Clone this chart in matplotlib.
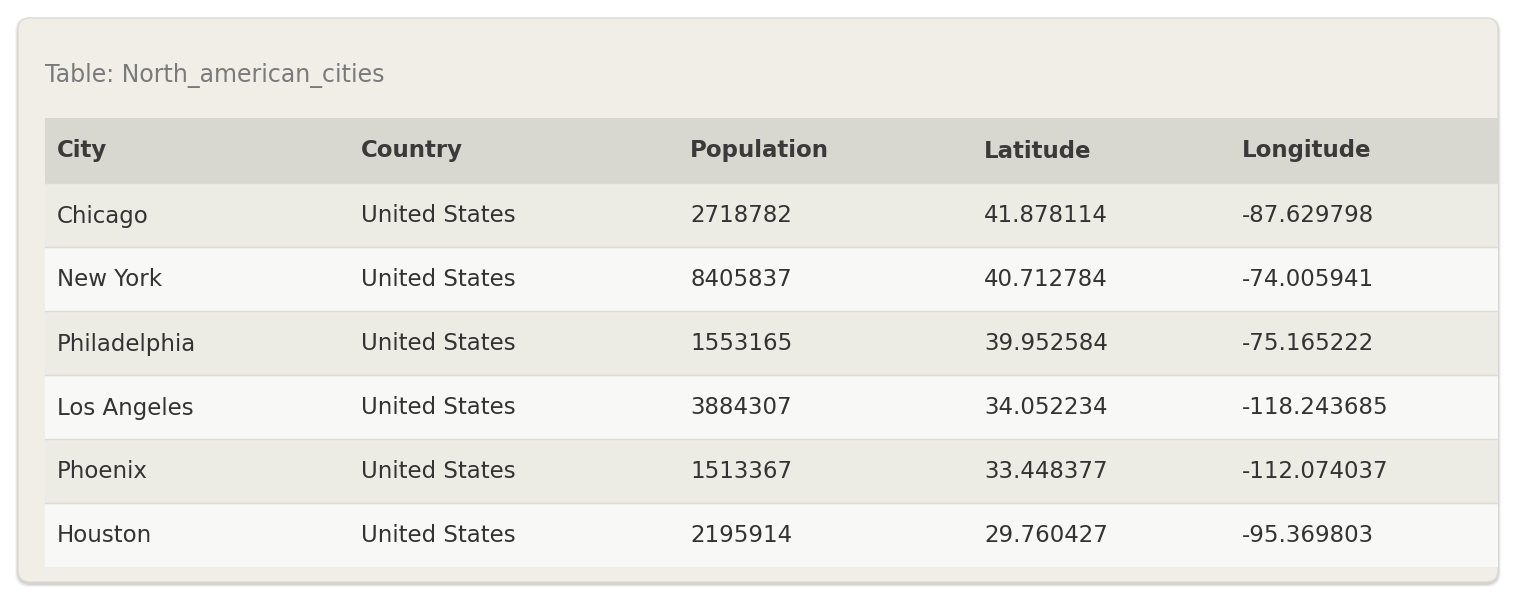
import matplotlib.pyplot as plt
from matplotlib.patches import FancyBboxPatch, Rectangle

title = "Table: North_american_cities"
columns = ["City", "Country", "Population", "Latitude", "Longitude"]
cities = ["Chicago", "New York", "Philadelphia", "Los Angeles", "Phoenix", "Houston"]
countries = ["United States"] * 6
populations = ["2718782", "8405837", "1553165", "3884307", "1513367", "2195914"]
latitudes = ["41.878114", "40.712784", "39.952584", "34.052234", "33.448377", "29.760427"]
longitudes = ["-87.629798", "-74.005941", "-75.165222", "-118.243685", "-112.074037", "-95.369803"]

col_x = [57, 361, 690, 984, 1242]
plt.rcParams['font.family'] = ['DejaVu Sans']

fig = plt.figure(figsize=(15.16, 6), dpi=100)
ax = fig.add_axes([0, 0, 1, 1])
ax.set_xlim(0, 1516)
ax.set_ylim(600, 0)
ax.axis('off')

# card with soft shadow
for i, a in enumerate([0.04, 0.06, 0.08]):
    d = 6 - 2 * i
    ax.add_patch(FancyBboxPatch((18 - d / 2, 18 - d / 2 + 2), 1480 + d, 564 + d,
                                boxstyle="round,pad=0,rounding_size=14",
                                fc='black', ec='none', alpha=a))
ax.add_patch(FancyBboxPatch((18, 18), 1480, 564, boxstyle="round,pad=0,rounding_size=12",
                            fc='#f1eee7', ec='#dddad2', lw=1))

ax.text(45, 75, title, fontsize=17, color='#7a7a7a', va='center', ha='left')

ax.add_patch(Rectangle((45, 118), 1453, 65, fc='#d9d8d0', ec='none'))
for x, c in zip(col_x, columns):
    ax.text(x, 151, c, fontsize=16.5, fontweight='bold', color='#3a3a3a', va='center')

rows = list(zip(cities, countries, populations, latitudes, longitudes))
for r, row in enumerate(rows):
    top = 183 + r * 64
    fc = '#ecebe4' if r % 2 == 0 else '#f8f8f7'
    ax.add_patch(Rectangle((45, top), 1453, 64, fc=fc, ec='none'))
    ax.plot([45, 1498], [top, top], color='#dcdbd4', lw=1)
    for x, v in zip(col_x, row):
        ax.text(x, top + 33, v, fontsize=16.5, color='#333333', va='center')

fig.savefig('out.png', dpi=100, facecolor='white')
